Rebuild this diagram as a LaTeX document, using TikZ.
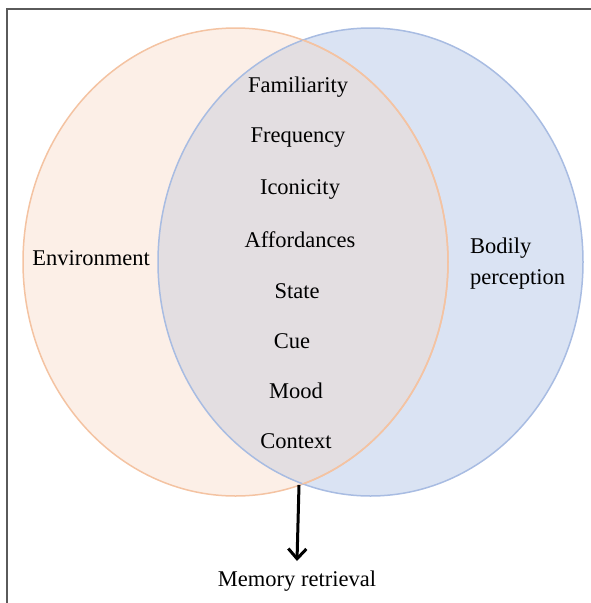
\documentclass[tikz,border=0pt]{standalone}
\usepackage{fontspec}
\setmainfont{Liberation Serif}
\usetikzlibrary{arrows.meta}
\definecolor{orfill}{HTML}{FCEFE7}
\definecolor{ordraw}{HTML}{F4C3A2}
\definecolor{blfill}{HTML}{DAE3F3}
\definecolor{bldraw}{HTML}{A8BCE2}
\definecolor{ovfill}{HTML}{E3DEE1}
\definecolor{framec}{HTML}{5A5A5A}
\tikzset{
  lbl/.style={font=\fontsize{22.5}{31}\selectfont, text=black, inner sep=0pt},
  circstroke/.style={line width=1.5pt},
}
\begin{document}
\begin{tikzpicture}[x=1pt,y=-1pt]
\useasboundingbox (0,0) rectangle (591,603);
\begin{scope}
\clip (0,0) rectangle (591,603);
\draw[framec, line width=1.6pt] (7,9) rectangle (620,640);
\end{scope}
% fills
\fill[orfill] (235.5,262) ellipse [x radius=212.5, y radius=234];
\fill[blfill] (370.5,262) ellipse [x radius=212.5, y radius=234];
\begin{scope}
\clip (235.5,262) ellipse [x radius=212.5, y radius=234];
\fill[ovfill] (370.5,262) ellipse [x radius=212.5, y radius=234];
\end{scope}
% strokes
\draw[ordraw, circstroke] (235.5,262) ellipse [x radius=212.5, y radius=234];
\draw[bldraw, circstroke] (370.5,262) ellipse [x radius=212.5, y radius=234];
\begin{scope}
\clip (370.5,262) ellipse [x radius=212.5, y radius=234];
\draw[ordraw, circstroke] (235.5,262) ellipse [x radius=212.5, y radius=234];
\end{scope}
% labels
\node[lbl] (fam) at (298,87) {Familiarity};
\node[lbl] (fre) at (298,138) {Frequency};
\node[lbl] (ico) at (300,189) {Iconicity};
\node[lbl] (aff) at (300,240) {Affordances};
\node[lbl] (sta) at (297,291) {State};
\node[lbl] (cue) at (292,341) {Cue};
\node[lbl] (moo) at (296,391) {Mood};
\node[lbl] (con) at (296,441) {Context};
\node[lbl] (env) at (91,258) {Environment};
\node[lbl, align=left, anchor=west] (bod) at (470,264) {Bodily\\perception};
\node[lbl] (mem) at (297,581) {Memory retrieval};
\coordinate (meet) at (299,485);
\coordinate (tip) at (297,561);
\draw[line width=3pt, -{Straight Barb[length=10pt, width=18pt, line width=3pt]}] (meet) -- (tip);
\end{tikzpicture}
\end{document}
